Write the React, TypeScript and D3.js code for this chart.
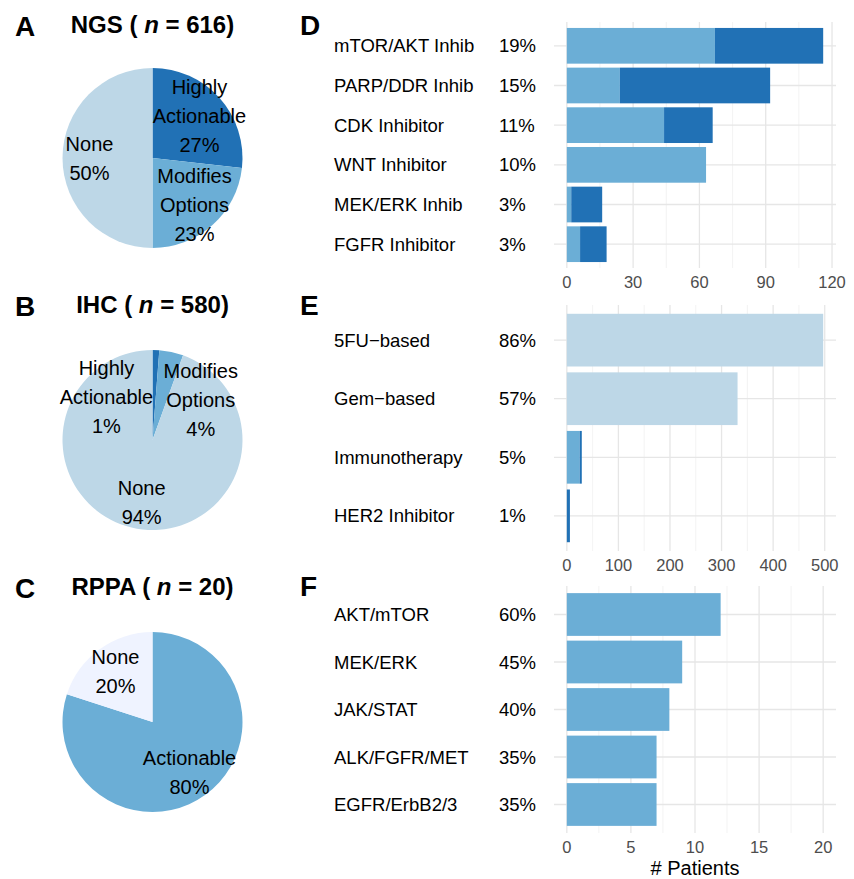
import React, { useLayoutEffect } from "react";
import * as d3 from "d3";

// ---------- data ----------
const pieCategories = ["Highly Actionable", "Modifies Options", "None"];
const ngsCounts = [165, 143, 308];
const ihcCounts = [7, 25, 548];
const rppaCategories = ["Actionable", "None"];
const rppaCounts = [16, 4];

const ngsN = 616;
const ihcN = 580;
const rppaN = 20;

const dCategories = ["mTOR/AKT Inhib", "PARP/DDR Inhib", "CDK Inhibitor", "WNT Inhibitor", "MEK/ERK Inhib", "FGFR Inhibitor"];
const dModifies = [67, 24, 44, 63, 2, 6];
const dHighly = [49, 68, 22, 0, 14, 12];
const dTicks = [0, 30, 60, 90, 120];

const eCategories = ["5FU\u2212based", "Gem\u2212based", "Immunotherapy", "HER2 Inhibitor"];
const eNone = [497, 331, 0, 0];
const eModifies = [0, 0, 25, 0];
const eHighly = [0, 0, 4, 6];
const eTicks = [0, 100, 200, 300, 400, 500];

const fCategories = ["AKT/mTOR", "MEK/ERK", "JAK/STAT", "ALK/FGFR/MET", "EGFR/ErbB2/3"];
const fActionable = [12, 9, 8, 7, 7];
const fTicks = [0, 5, 10, 15, 20];
const fLimit = 20;

// ---------- style ----------
const FONT = "'Liberation Sans', Arial, Helvetica, sans-serif";
const colors: Record<string, string> = {
  "Highly Actionable": "#2171b5",
  "Modifies Options": "#6baed6",
  None: "#bdd7e7",
  Actionable: "#6baed6",
  RPPANone: "#eff3ff",
};

const W = 854;
const H = 879;
const PIE_CX = 152.5;
const PIE_R = 90;
const LABEL_R = 63;
const LINE_H = 29;
const PANEL_X0 = 554;
const PANEL_X1 = 836;
const CAT_X = 334;
const PCT_X = 499;

type PieProps = {
  cy: number;
  cats: string[];
  counts: number[];
  n: number;
  colorKeys: string[];
  angleOverride?: (number | null)[];
};

function Pie({ cy, cats, counts, n, colorKeys, angleOverride }: PieProps) {
  const arcs = d3.pie<number>().sort(null).value((d) => d)(counts);
  const arcGen = d3.arc<d3.PieArcDatum<number>>().innerRadius(0).outerRadius(PIE_R);
  return (
    <g transform={`translate(${PIE_CX},${cy})`}>
      {arcs.map((a, i) => (
        <path key={i} d={arcGen(a) || ""} fill={colors[colorKeys[i]]} />
      ))}
      {arcs.map((a, i) => {
        const ov = angleOverride ? angleOverride[i] : null;
        const ang = ov != null ? (ov * Math.PI) / 180 : (a.startAngle + a.endAngle) / 2;
        const x = LABEL_R * Math.sin(ang);
        const y = -LABEL_R * Math.cos(ang);
        const words = cats[i].split(" ");
        const lines = [...words, `${Math.round((counts[i] / n) * 100)}%`];
        const off = ((lines.length - 1) * LINE_H) / 2;
        return (
          <text key={"l" + i} fontSize={20} fontFamily={FONT} textAnchor="middle" fill="#000">
            {lines.map((ln, j) => (
              <tspan key={j} x={x} y={y - off + j * LINE_H} dominantBaseline="central">
                {ln}
              </tspan>
            ))}
          </text>
        );
      })}
    </g>
  );
}

function Title({ letter, name, n, baseline }: { letter: string; name: string; n: number; baseline: number }) {
  return (
    <g fontFamily={FONT} fontWeight="bold">
      <text x={15} y={baseline + 3} fontSize={28}>{letter}</text>
      <text x={PIE_CX} y={baseline} fontSize={24} textAnchor="middle" style={{ whiteSpace: "pre" }}>
        <tspan>{name} ( </tspan>
        <tspan fontStyle="italic">n</tspan>
        <tspan> = {n})</tspan>
      </text>
    </g>
  );
}

type BarPanelProps = {
  cats: string[];
  series: { values: number[]; color: string }[];
  domainMax: number;
  ticks: number[];
  top: number;
  bottom: number;
  n: number;
  letter: string;
  letterBaseline: number;
};

function BarPanel({ cats, series, domainMax, ticks, top, bottom, n, letter, letterBaseline }: BarPanelProps) {
  const x = d3.scaleLinear().domain([-0.05 * domainMax, 1.05 * domainMax]).range([PANEL_X0, PANEL_X1]);
  const y = d3.scaleBand<string>().domain(cats).range([top, bottom]).paddingInner(0.1).paddingOuter(0.15);
  const rows = cats.map((c, i) => {
    const r: Record<string, number | string> = { cat: c };
    series.forEach((s, k) => (r["s" + k] = s.values[i]));
    return r;
  });
  const stack = d3.stack<Record<string, number | string>>().keys(series.map((_, k) => "s" + k));
  const layers = stack(rows as any);
  const totals = cats.map((_, i) => d3.sum(series, (s) => s.values[i]));
  const minor = ticks.slice(1).map((t, i) => (t + ticks[i]) / 2);
  const half = y.bandwidth() / 2;
  return (
    <g fontFamily={FONT}>
      <text x={300} y={letterBaseline} fontSize={28} fontWeight="bold">{letter}</text>
      {minor.map((t) => (
        <line key={"m" + t} x1={x(t)} x2={x(t)} y1={top} y2={bottom} stroke="#f0f0f0" strokeWidth={0.8} />
      ))}
      {ticks.map((t) => (
        <line key={"t" + t} x1={x(t)} x2={x(t)} y1={top} y2={bottom} stroke="#e6e6e6" strokeWidth={1.3} />
      ))}
      {cats.map((c) => (
        <line key={"h" + c} x1={PANEL_X0} x2={PANEL_X1} y1={(y(c) || 0) + half} y2={(y(c) || 0) + half} stroke="#e6e6e6" strokeWidth={1.3} />
      ))}
      {layers.map((layer, k) =>
        layer.map((d, i) =>
          d[1] - d[0] > 0 ? (
            <rect
              key={k + "-" + i}
              x={x(d[0])}
              width={x(d[1]) - x(d[0])}
              y={y(cats[i])}
              height={y.bandwidth()}
              fill={series[k].color}
            />
          ) : null
        )
      )}
      {cats.map((c, i) => (
        <g key={"lab" + c} fontSize={18.5} fill="#000">
          <text x={CAT_X} y={(y(c) || 0) + half} dominantBaseline="central">{c}</text>
          <text x={PCT_X} y={(y(c) || 0) + half} dominantBaseline="central">{`${Math.round((totals[i] / n) * 100)}%`}</text>
        </g>
      ))}
      {ticks.map((t) => (
        <text key={"tl" + t} x={x(t)} y={bottom + 19.5} fontSize={16.5} fill="#4d4d4d" textAnchor="middle">
          {t}
        </text>
      ))}
    </g>
  );
}

export default function App() {
  useLayoutEffect(() => {
    document.body.style.margin = "0";
  }, []);
  const dMax = d3.max(dCategories, (_, i) => dModifies[i] + dHighly[i]) || 0;
  const eMax = d3.max(eCategories, (_, i) => eNone[i] + eModifies[i] + eHighly[i]) || 0;
  return (
    <svg width={W} height={H} style={{ display: "block", background: "#fff" }}>
      <rect width={W} height={H} fill="#fff" />
      <Title letter="A" name="NGS" n={ngsN} baseline={33} />
      <Pie cy={158} cats={pieCategories} counts={ngsCounts} n={ngsN} colorKeys={pieCategories} />
      <Title letter="B" name="IHC" n={ihcN} baseline={313} />
      <Pie cy={440} cats={pieCategories} counts={ihcCounts} n={ihcN} colorKeys={pieCategories} angleOverride={[313, 50, null]} />
      <Title letter="C" name="RPPA" n={rppaN} baseline={595} />
      <Pie cy={722} cats={rppaCategories} counts={rppaCounts} n={rppaN} colorKeys={["Actionable", "RPPANone"]} />

      <BarPanel
        cats={dCategories}
        series={[
          { values: dModifies, color: colors["Modifies Options"] },
          { values: dHighly, color: colors["Highly Actionable"] },
        ]}
        domainMax={dMax}
        ticks={dTicks}
        top={22}
        bottom={268}
        n={ngsN}
        letter="D"
        letterBaseline={35}
      />
      <BarPanel
        cats={eCategories}
        series={[
          { values: eNone, color: colors.None },
          { values: eModifies, color: colors["Modifies Options"] },
          { values: eHighly, color: colors["Highly Actionable"] },
        ]}
        domainMax={eMax}
        ticks={eTicks}
        top={305}
        bottom={551}
        n={ihcN}
        letter="E"
        letterBaseline={315}
      />
      <BarPanel
        cats={fCategories}
        series={[{ values: fActionable, color: colors.Actionable }]}
        domainMax={fLimit}
        ticks={fTicks}
        top={586}
        bottom={833}
        n={rppaN}
        letter="F"
        letterBaseline={596}
      />
      <text x={(PANEL_X0 + PANEL_X1) / 2} y={874.5} fontSize={20} fontFamily={FONT} textAnchor="middle">
        # Patients
      </text>
    </svg>
  );
}
